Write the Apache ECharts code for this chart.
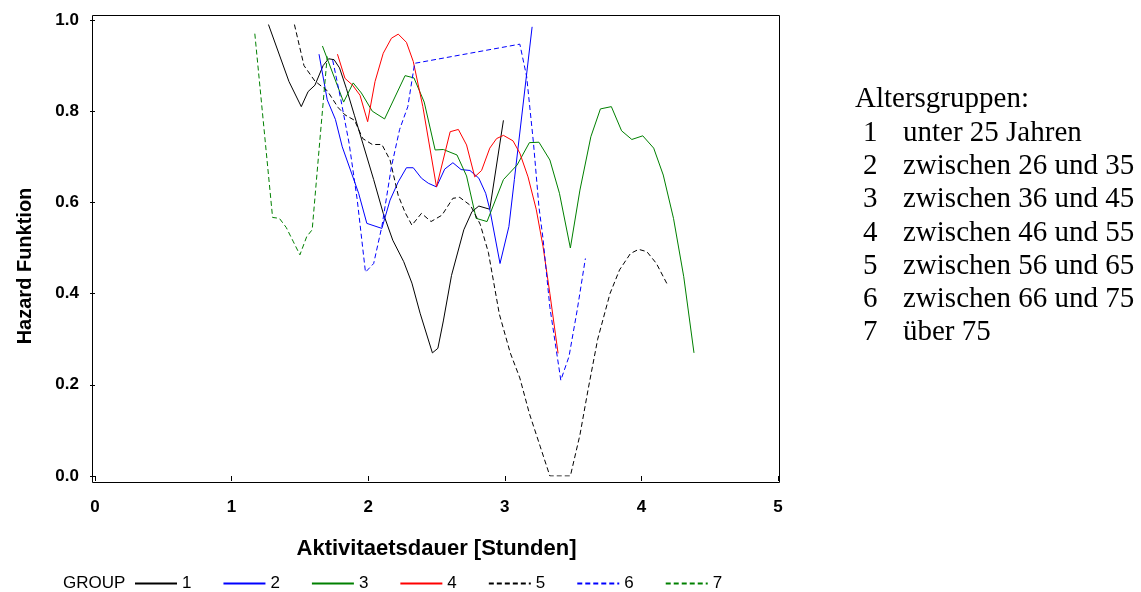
<!DOCTYPE html>
<html>
<head>
<meta charset="utf-8">
<script src="https://cdn.jsdelivr.net/npm/echarts@6/dist/echarts.min.js"></script>
<style>
  html, body { margin: 0; padding: 0; background: #fff; }
  #chart { width: 1141px; height: 592px; }
</style>
</head>
<body>
<div id="chart"></div>
<script>
// Hazard function by age group: [duration in hours, hazard]
const group1 = [[1.27,0.99],[1.42,0.865],[1.51,0.81],[1.56,0.843],[1.61,0.857],[1.67,0.90],[1.71,0.915],[1.75,0.913],[1.79,0.895],[1.84,0.85],[1.90,0.79],[1.96,0.73],[2.04,0.65],[2.11,0.576],[2.18,0.517],[2.26,0.47],[2.32,0.423],[2.38,0.357],[2.47,0.27],[2.51,0.28],[2.55,0.34],[2.61,0.44],[2.70,0.54],[2.76,0.58],[2.81,0.592],[2.89,0.585],[2.99,0.78]];
const group2 = [[1.64,0.925],[1.70,0.825],[1.76,0.782],[1.81,0.722],[1.87,0.671],[1.93,0.62],[1.99,0.554],[2.10,0.543],[2.16,0.605],[2.22,0.645],[2.28,0.676],[2.33,0.676],[2.39,0.653],[2.44,0.642],[2.50,0.634],[2.56,0.673],[2.62,0.687],[2.68,0.672],[2.745,0.67],[2.81,0.653],[2.86,0.62],[2.89,0.585],[2.965,0.466],[3.03,0.547],[3.07,0.65],[3.20,0.985]];
const group3 = [[1.665,0.943],[1.82,0.82],[1.89,0.862],[1.95,0.84],[2.03,0.80],[2.12,0.783],[2.27,0.878],[2.335,0.873],[2.41,0.82],[2.49,0.715],[2.55,0.716],[2.65,0.704],[2.72,0.658],[2.79,0.565],[2.87,0.558],[2.99,0.65],[3.09,0.682],[3.18,0.731],[3.25,0.732],[3.33,0.693],[3.40,0.62],[3.48,0.50],[3.55,0.627],[3.63,0.744],[3.70,0.805],[3.78,0.81],[3.855,0.757],[3.93,0.738],[4.01,0.746],[4.09,0.719],[4.16,0.66],[4.235,0.565],[4.31,0.437],[4.385,0.27]];
const group4 = [[1.775,0.925],[1.83,0.872],[1.886,0.857],[1.94,0.835],[1.996,0.777],[2.05,0.865],[2.11,0.927],[2.17,0.96],[2.22,0.969],[2.28,0.951],[2.33,0.909],[2.40,0.81],[2.50,0.634],[2.60,0.755],[2.66,0.76],[2.72,0.726],[2.78,0.656],[2.83,0.67],[2.89,0.719],[2.94,0.74],[2.99,0.747],[3.06,0.735],[3.11,0.708],[3.17,0.656],[3.23,0.585],[3.28,0.503],[3.33,0.40],[3.39,0.269]];
const group5 = [[1.46,0.99],[1.53,0.90],[1.61,0.866],[1.70,0.845],[1.78,0.808],[1.83,0.792],[1.90,0.78],[1.96,0.74],[2.03,0.727],[2.10,0.727],[2.16,0.693],[2.22,0.615],[2.27,0.578],[2.32,0.55],[2.39,0.576],[2.46,0.558],[2.54,0.572],[2.62,0.609],[2.67,0.611],[2.75,0.593],[2.82,0.552],[2.88,0.49],[2.96,0.355],[3.04,0.27],[3.11,0.215],[3.18,0.137],[3.26,0.064],[3.33,0.0],[3.48,0.0],[3.55,0.09],[3.61,0.19],[3.68,0.30],[3.77,0.40],[3.84,0.452],[3.92,0.488],[3.98,0.497],[4.04,0.492],[4.11,0.466],[4.19,0.42]];
const group6 = [[1.74,0.912],[1.80,0.825],[1.86,0.73],[1.92,0.605],[1.98,0.447],[2.04,0.466],[2.10,0.547],[2.17,0.678],[2.23,0.76],[2.29,0.81],[2.34,0.905],[3.11,0.947],[3.16,0.876],[3.21,0.73],[3.25,0.59],[3.28,0.52],[3.33,0.37],[3.41,0.21],[3.47,0.262],[3.53,0.364],[3.59,0.477]];
const group7 = [[1.17,0.97],[1.30,0.567],[1.35,0.565],[1.40,0.545],[1.45,0.515],[1.50,0.485],[1.55,0.525],[1.59,0.54],[1.65,0.75],[1.70,0.92]];

const groupNames = ['1', '2', '3', '4', '5', '6', '7'];
const groupData = [group1, group2, group3, group4, group5, group6, group7];

const ageLabels = [
  'unter 25 Jahren',
  'zwischen 26 und 35',
  'zwischen 36 und 45',
  'zwischen 46 und 55',
  'zwischen 56 und 65',
  'zwischen 66 und 75',
  'über 75'
];

const xAxisTitle = 'Aktivitaetsdauer [Stunden]';
const yAxisTitle = 'Hazard Funktion';
const legendTitle = 'GROUP';
const sideTitle = 'Altersgruppen:';

// line styles per group
const lineColors = ['#000000', '#0000ff', '#008000', '#ff0000', '#000000', '#0000ff', '#008000'];
const lineDash = ['solid', 'solid', 'solid', 'solid', [5, 3], [5, 3], [5, 3]];

const SANS = '"Liberation Sans", Arial, sans-serif';
const SERIF = '"Liberation Serif", "Times New Roman", serif';

const chart = echarts.init(document.getElementById('chart'), null, { renderer: 'canvas' });

const series = groupData.map((d, i) => ({
  name: groupNames[i],
  type: 'line',
  data: d,
  symbol: 'none',
  showSymbol: false,
  smooth: false,
  lineStyle: { color: lineColors[i], width: 1, type: lineDash[i] },
  itemStyle: { color: lineColors[i] },
  emphasis: { disabled: true },
  z: 3
}));

// side panel text: heading plus one row per age group
const sideGraphics = [{
  type: 'text', x: 855, y: 99,
  style: { text: sideTitle, font: '29px ' + SERIF, fill: '#000', textAlign: 'left', textVerticalAlign: 'middle' }
}];
ageLabels.forEach((txt, i) => {
  const y = 133 + i * 33.3;
  sideGraphics.push({
    type: 'text', x: 863, y: y,
    style: { text: groupNames[i], font: '29px ' + SERIF, fill: '#000', textAlign: 'left', textVerticalAlign: 'middle' }
  });
  sideGraphics.push({
    type: 'text', x: 903, y: y,
    style: { text: txt, font: '29px ' + SERIF, fill: '#000', textAlign: 'left', textVerticalAlign: 'middle' }
  });
});

chart.setOption({
  animation: false,
  backgroundColor: '#ffffff',
  grid: { left: 95, right: 363, top: 20, bottom: 116, containLabel: false },
  xAxis: {
    type: 'value',
    min: 0, max: 5, interval: 1,
    offset: 7,
    name: xAxisTitle,
    nameLocation: 'middle',
    nameGap: 55,
    nameTextStyle: { fontFamily: SANS, fontSize: 22, fontWeight: 'bold', color: '#000' },
    axisLine: { show: false },
    axisTick: { show: true, length: 5, lineStyle: { color: '#000', width: 1 } },
    axisLabel: { margin: 16, fontFamily: SANS, fontSize: 17, fontWeight: 'bold', color: '#000',
      formatter: v => String(v) },
    splitLine: { show: false }
  },
  yAxis: {
    type: 'value',
    min: 0, max: 1, interval: 0.2,
    offset: 3,
    axisLine: { show: false },
    axisTick: { show: true, length: 5, lineStyle: { color: '#000', width: 1 } },
    axisLabel: { margin: 13, fontFamily: SANS, fontSize: 17, fontWeight: 'bold', color: '#000',
      formatter: v => v.toFixed(1) },
    splitLine: { show: false }
  },
  legend: {
    data: groupNames,
    left: 134, top: 575,
    padding: 0,
    orient: 'horizontal',
    itemWidth: 42, itemHeight: 14, itemGap: 31,
    itemStyle: { opacity: 0, borderWidth: 0 },
    textStyle: { fontFamily: SANS, fontSize: 17, color: '#000' },
    selectedMode: false
  },
  graphic: [
    {
      type: 'rect', silent: true, z: 10,
      shape: { x: 92.5, y: 15.5, width: 687, height: 467 },
      style: { fill: 'none', stroke: '#000', lineWidth: 1 }
    },
    {
      type: 'text', x: 25, y: 266, rotation: Math.PI / 2,
      style: { text: yAxisTitle, font: 'bold 20px ' + SANS, fill: '#000', textAlign: 'center', textVerticalAlign: 'middle' }
    },
    {
      type: 'text', x: 63, y: 583,
      style: { text: legendTitle, font: '17px ' + SANS, fill: '#000', textAlign: 'left', textVerticalAlign: 'middle' }
    }
  ].concat(sideGraphics),
  series: series
});
</script>
</body>
</html>
